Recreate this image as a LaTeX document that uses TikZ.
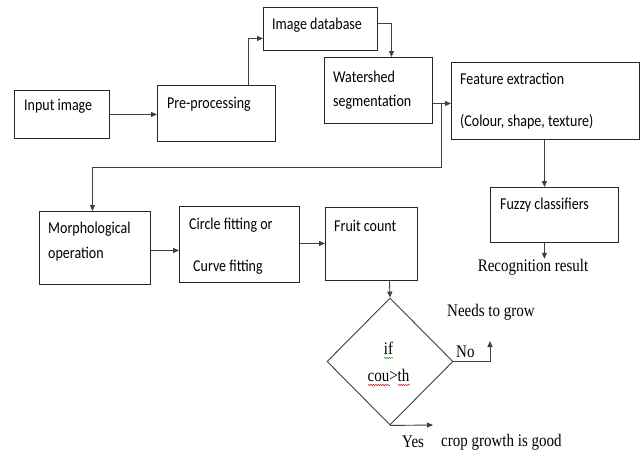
\documentclass[tikz,border=0pt]{standalone}
\usepackage{fontspec}
\setmainfont{Liberation Serif}
\newfontfamily\carlitofont{Carlito}
\usetikzlibrary{arrows.meta,shapes.geometric,decorations.pathmorphing}
\newcommand{\vstretch}[1]{\scalebox{1}[1.18]{#1}}
\begin{document}
\begin{tikzpicture}[x=1pt,y=-1pt,
  box/.style={draw=black!85,line width=0.9pt,inner sep=0pt,anchor=north west},
  lbl/.style={font=\carlitofont\fontsize{14}{17}\selectfont,text=black,inner sep=0pt,anchor=west},
  ser/.style={font=\fontsize{15}{18}\selectfont,text=black,inner sep=0pt,anchor=west},
  arr/.style={draw=black!75,line width=0.9pt,-{Triangle[length=6pt,width=5pt]}},
  squig/.style={line width=0.5pt,decorate,decoration={snake,segment length=2.4pt,amplitude=0.6pt}}]
\fill[white] (0,0) rectangle (642,453);
\useasboundingbox (0,0) rectangle (642,453);
% boxes
\node[box,minimum width=95pt,minimum height=48pt] (input) at (14,90) {};
\node[box,minimum width=118pt,minimum height=56pt] (pre) at (157,85) {};
\node[box,minimum width=114pt,minimum height=43pt] (db) at (263,7) {};
\node[box,minimum width=108pt,minimum height=66pt] (ws) at (324,57) {};
\node[box,minimum width=188pt,minimum height=77pt] (fe) at (451,62) {};
\node[box,minimum width=128pt,minimum height=55pt] (fuzzy) at (490,187) {};
\node[box,minimum width=111pt,minimum height=73pt] (morph) at (39,211) {};
\node[box,minimum width=120pt,minimum height=76pt] (circ) at (179,206) {};
\node[box,minimum width=92pt,minimum height=73pt] (fruit) at (325,207) {};
\node[draw=black!75,line width=0.9pt,diamond,inner sep=0pt,minimum width=126pt,minimum height=127pt] (dia) at (390,361.5) {};
% labels
\node[lbl] (tInput) at (24,106) {\vstretch{Input image}};
\node[lbl] (tPre) at (167,104) {\vstretch{Pre-processing}};
\node[lbl] (tDb) at (272,25) {\vstretch{Image database}};
\node[lbl] (tWs1) at (333,77) {\vstretch{Watershed}};
\node[lbl] (tWs2) at (333,102) {\vstretch{segmentation}};
\node[lbl] (tFe1) at (460,79) {\vstretch{Feature extraction}};
\node[lbl] (tFe2) at (460,122) {\vstretch{(Colour, shape, texture)}};
\node[lbl] (tFz) at (500,205) {\vstretch{Fuzzy classifiers}};
\node[lbl] (tM1) at (48,229) {\vstretch{Morphological}};
\node[lbl] (tM2) at (48,254) {\vstretch{operation}};
\node[lbl] (tC1) at (189,225) {\vstretch{Circle fitting or}};
\node[lbl] (tC2) at (193,267) {\vstretch{Curve fitting}};
\node[lbl] (tFr) at (334,226) {\vstretch{Fruit count}};
\node[ser,anchor=center] (rec) at (533,267) {\vstretch{Recognition result}};
\node[ser,anchor=center] (tIf) at (388.5,348) {\vstretch{if}};
\node[ser,anchor=center] (tCou) at (388.5,375) {\vstretch{cou>th}};
\node[ser] (tNo) at (456,352) {\vstretch{No}};
\node[ser] (tNeeds) at (447,312) {\vstretch{Needs to grow}};
\node[ser] (tYes) at (402,442) {\vstretch{Yes}};
\node[ser] (tCrop) at (441,442) {\vstretch{crop growth is good}};
% spell-check squiggles
\draw[squig,green!60!black] (384,358) -- (393,358);
\draw[squig,red!80!black] (368,385) -- (390,385);
\draw[squig,red!80!black] (398,385) -- (410,385);
% connectors
\coordinate (br) at (441,103);
\coordinate (bend) at (441,167);
\coordinate (noend) at (490,341);
\coordinate (yesend) at (433,425);
\draw[arr] (input.east) -- (input.east -| pre.west);
\draw[arr] ([xshift=32pt]pre.north) |- ([yshift=-9.5pt]db.west);
\draw[arr] ([yshift=5.5pt]db.east) -| ([xshift=13pt]ws.north);
\draw[arr] ([yshift=-13pt]ws.east) -- ([yshift=-13pt]ws.east -| fe.west);
\draw[arr] (br) -- (bend) -| ([xshift=-2.5pt]morph.north);
\draw[arr] ([xshift=-1pt]fe.south) -- ([xshift=-1pt]fe.south |- fuzzy.north);
\draw[arr] ([xshift=-10pt]fuzzy.south) -- ([xshift=-10pt]fuzzy.south |- rec.north);
\draw[arr] ([yshift=-2.5pt]morph.east) -- ([yshift=-2.5pt]morph.east -| circ.west);
\draw[arr] ([yshift=1pt]circ.east) -- ([yshift=1pt]circ.east -| fruit.west);
\draw[arr] ([xshift=18pt]fruit.south) -- (dia.north);
\draw[arr] (dia.east) -| (noend);
\draw[arr] (dia.south) -- (yesend);
\end{tikzpicture}
\end{document}
